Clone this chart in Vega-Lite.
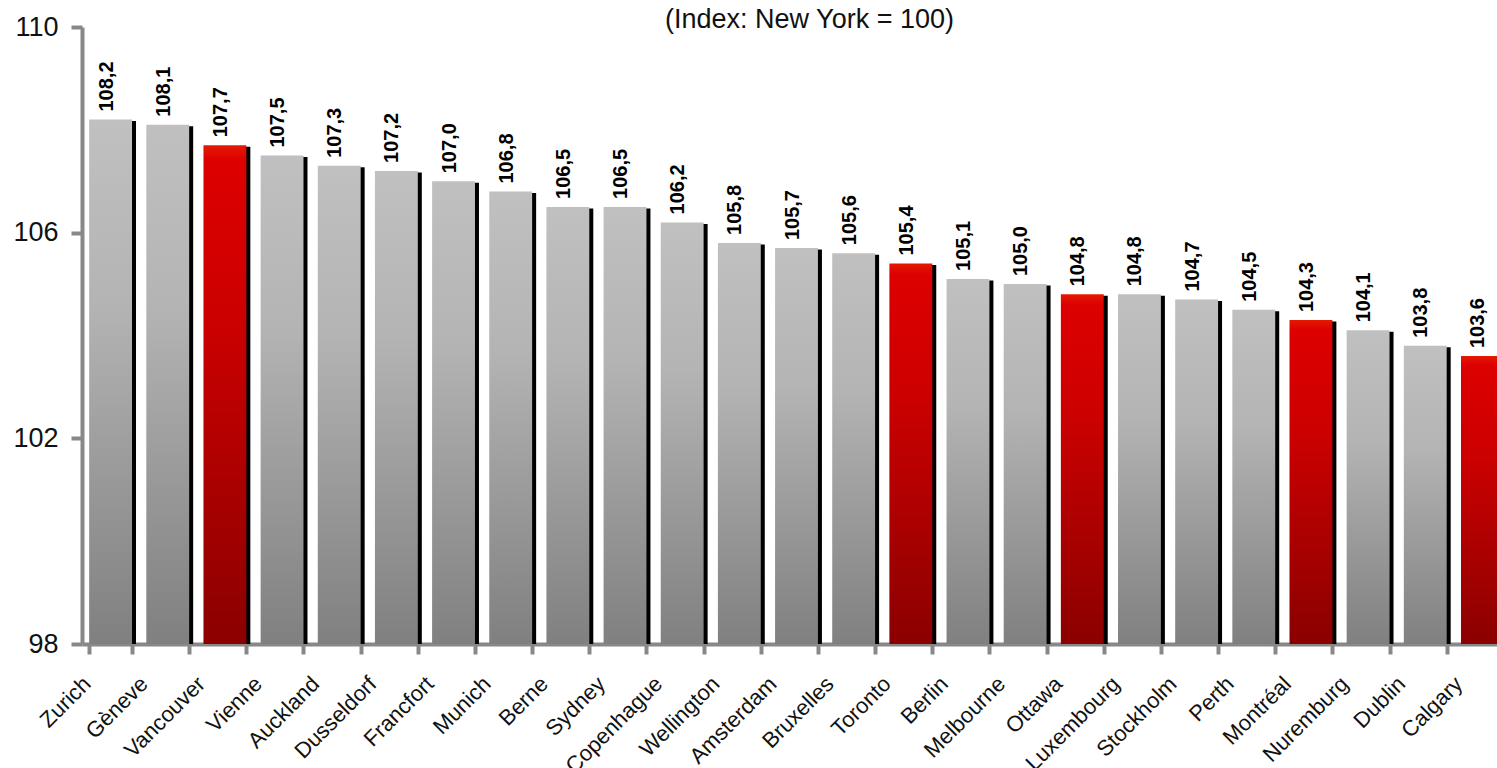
{
  "$schema": "https://vega.github.io/schema/vega-lite/v6.json",
  "autosize": {"type": "none"},
  "width": 1415,
  "height": 617,
  "padding": {"left": 82, "top": 27, "right": 0, "bottom": 124},
  "config": {
    "view": {"stroke": null},
    "font": "Liberation Sans",
    "locale": {"number": {"decimal": ",", "thousands": ".", "grouping": [3], "currency": ["", " €"]}}
  },
  "title": {
    "text": "(Index: New York = 100)",
    "fontSize": 27,
    "fontWeight": "normal",
    "font": "Liberation Sans",
    "color": "#111111",
    "anchor": "middle",
    "dx": 20,
    "dy": 44,
    "offset": 2,
    "baseline": "alphabetic"
  },
  "data": {
    "values": [
      {"city": "Zurich", "index": 108.2, "group": "Other"},
      {"city": "Gèneve", "index": 108.1, "group": "Other"},
      {"city": "Vancouver", "index": 107.7, "group": "Canada"},
      {"city": "Vienne", "index": 107.5, "group": "Other"},
      {"city": "Auckland", "index": 107.3, "group": "Other"},
      {"city": "Dusseldorf", "index": 107.2, "group": "Other"},
      {"city": "Francfort", "index": 107.0, "group": "Other"},
      {"city": "Munich", "index": 106.8, "group": "Other"},
      {"city": "Berne", "index": 106.5, "group": "Other"},
      {"city": "Sydney", "index": 106.5, "group": "Other"},
      {"city": "Copenhague", "index": 106.2, "group": "Other"},
      {"city": "Wellington", "index": 105.8, "group": "Other"},
      {"city": "Amsterdam", "index": 105.7, "group": "Other"},
      {"city": "Bruxelles", "index": 105.6, "group": "Other"},
      {"city": "Toronto", "index": 105.4, "group": "Canada"},
      {"city": "Berlin", "index": 105.1, "group": "Other"},
      {"city": "Melbourne", "index": 105.0, "group": "Other"},
      {"city": "Ottawa", "index": 104.8, "group": "Canada"},
      {"city": "Luxembourg", "index": 104.8, "group": "Other"},
      {"city": "Stockholm", "index": 104.7, "group": "Other"},
      {"city": "Perth", "index": 104.5, "group": "Other"},
      {"city": "Montréal", "index": 104.3, "group": "Canada"},
      {"city": "Nuremburg", "index": 104.1, "group": "Other"},
      {"city": "Dublin", "index": 103.8, "group": "Other"},
      {"city": "Calgary", "index": 103.6, "group": "Canada"}
    ]
  },
  "encoding": {
    "x": {
      "field": "city",
      "type": "nominal",
      "sort": null,
      "scale": {
        "domain": ["Zurich", "Gèneve", "Vancouver", "Vienne", "Auckland", "Dusseldorf", "Francfort", "Munich", "Berne", "Sydney", "Copenhague", "Wellington", "Amsterdam", "Bruxelles", "Toronto", "Berlin", "Melbourne", "Ottawa", "Luxembourg", "Stockholm", "Perth", "Montréal", "Nuremburg", "Dublin", "Calgary"],
        "range": [0, 1429],
        "paddingInner": 0.25,
        "paddingOuter": 0.125
      },
      "axis": {
        "title": null,
        "labelAngle": -45,
        "labelAlign": "right",
        "labelBaseline": "middle",
        "labelFontSize": 22,
        "labelFont": "Liberation Sans",
        "labelColor": "#111111",
        "labelOffset": -24,
        "labelPadding": 26,
        "labelOverlap": false,
        "labelLimit": 300,
        "tickBand": "extent",
        "tickSize": 10,
        "tickWidth": 4,
        "tickColor": "#888888",
        "domainColor": "#888888",
        "domainWidth": 4,
        "grid": false
      }
    },
    "y": {
      "field": "index",
      "type": "quantitative",
      "scale": {"domain": [98, 110], "nice": false, "zero": false},
      "axis": {
        "title": null,
        "values": [98, 102, 106, 110],
        "format": "d",
        "labelFontSize": 27,
        "labelFont": "Liberation Sans",
        "labelColor": "#111111",
        "labelPadding": 13,
        "tickSize": 11,
        "tickWidth": 4,
        "tickColor": "#888888",
        "domainColor": "#888888",
        "domainWidth": 4,
        "grid": false
      }
    }
  },
  "layer": [
    {
      "mark": {"type": "bar", "color": "#000000", "xOffset": 4, "yOffset": 1.5},
      "encoding": {"y2": {"datum": 98}}
    },
    {
      "transform": [{"filter": "datum.group !== 'Canada'"}],
      "mark": {
        "type": "bar",
        "color": {
          "gradient": "linear", "x1": 0, "y1": 0, "x2": 0, "y2": 1,
          "stops": [
            {"offset": 0, "color": "#c0c0c0"},
            {"offset": 0.35, "color": "#b4b4b4"},
            {"offset": 1, "color": "#808080"}
          ]
        }
      },
      "encoding": {"y2": {"datum": 98}}
    },
    {
      "transform": [{"filter": "datum.group === 'Canada'"}],
      "mark": {
        "type": "bar",
        "color": {
          "gradient": "linear", "x1": 0, "y1": 0, "x2": 0, "y2": 1,
          "stops": [
            {"offset": 0, "color": "#e31a00"},
            {"offset": 0.03, "color": "#dd0000"},
            {"offset": 0.35, "color": "#cc0000"},
            {"offset": 1, "color": "#8b0000"}
          ]
        }
      },
      "encoding": {"y2": {"datum": 98}}
    },
    {
      "mark": {
        "type": "text",
        "angle": -90,
        "align": "left",
        "baseline": "middle",
        "dx": 8,
        "dy": -4,
        "fontWeight": "bold",
        "fontSize": 20,
        "font": "Liberation Sans",
        "color": "#000000"
      },
      "encoding": {"text": {"field": "index", "type": "quantitative", "format": ".1f"}}
    }
  ]
}
